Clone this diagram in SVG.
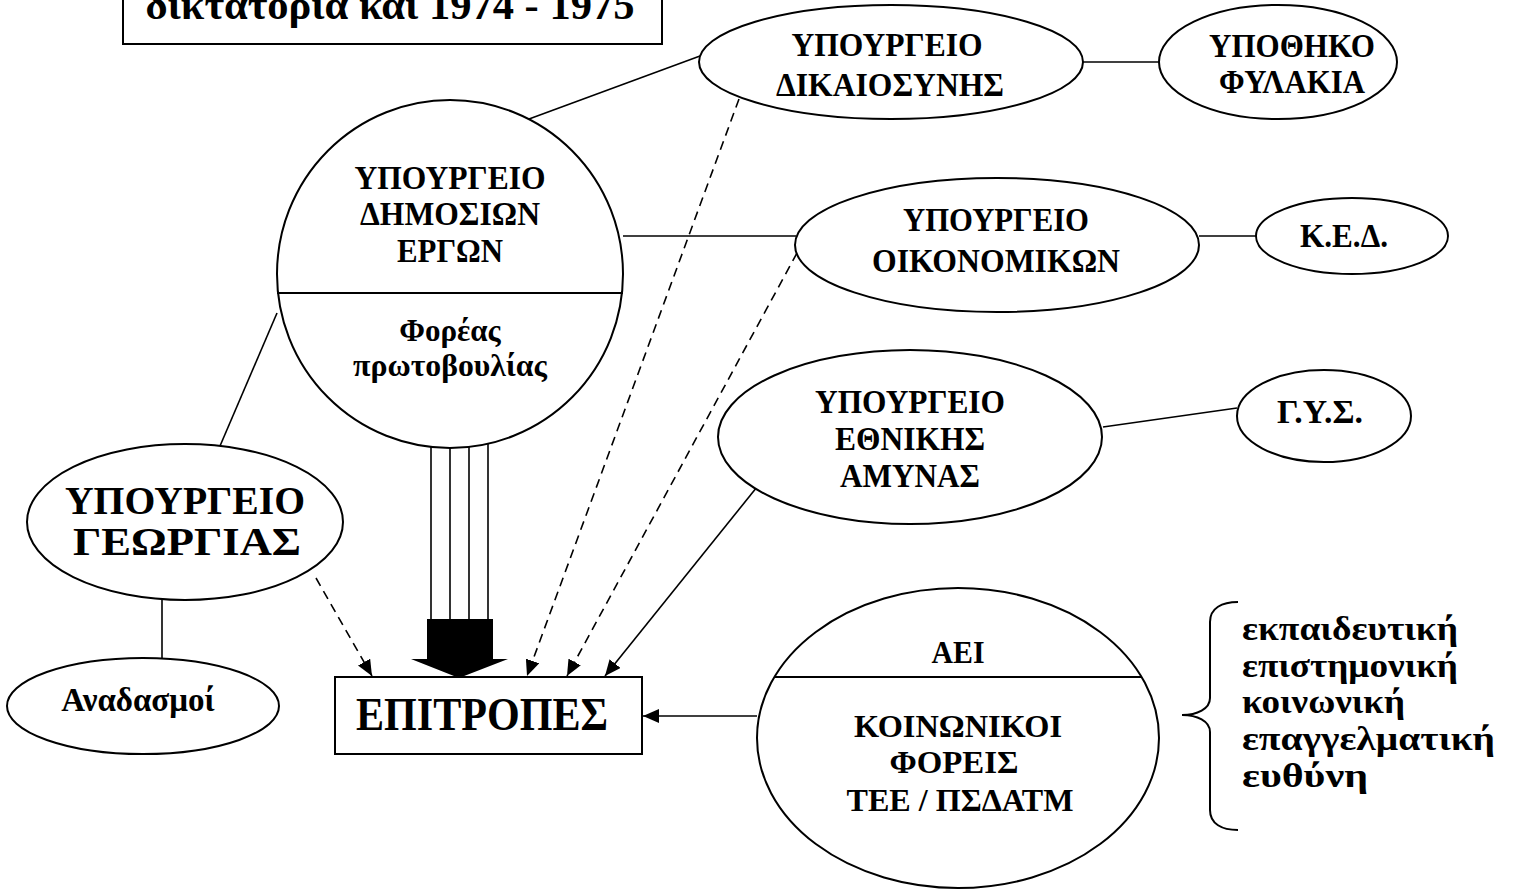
<svg xmlns="http://www.w3.org/2000/svg" width="1514" height="890" viewBox="0 0 1514 890">
<style>
.s{fill:none;stroke:#000;stroke-width:2}
.n{fill:#fff;stroke:#000;stroke-width:2}
.t{font-family:"Liberation Serif","Times New Roman",serif;font-weight:bold;fill:#000;text-anchor:middle}
.m{font-size:34px}
.c{stroke:#000;stroke-width:1.6;fill:none}
.d{stroke:#000;stroke-width:1.6;fill:none;stroke-dasharray:9 6}
</style>
<defs>
<marker id="ah" markerUnits="userSpaceOnUse" markerWidth="18" markerHeight="14" refX="16" refY="7" orient="auto">
<path d="M0,0 L16,7 L0,14 Z" fill="#000"/>
</marker>
</defs>
<rect width="1514" height="890" fill="#fff"/>

<g id="connectors">
<line class="c" x1="529" y1="119" x2="700" y2="56"/>
<line class="c" x1="1083" y1="62" x2="1160" y2="62"/>
<line class="c" x1="623" y1="236" x2="796" y2="236"/>
<line class="c" x1="1199" y1="236" x2="1256" y2="236"/>
<line class="c" x1="1103" y1="427" x2="1237" y2="408"/>
<line class="c" x1="277" y1="313" x2="220" y2="446"/>
<line class="c" x1="162" y1="600" x2="162" y2="658"/>
<line class="d" x1="739" y1="99" x2="527" y2="676" marker-end="url(#ah)"/>
<line class="d" x1="797" y1="253" x2="567" y2="676" marker-end="url(#ah)"/>
<line class="c" x1="757" y1="487" x2="605" y2="676" marker-end="url(#ah)"/>
<line class="d" x1="316" y1="578" x2="372" y2="676" marker-end="url(#ah)"/>
<line class="c" x1="757" y1="716" x2="643" y2="716" marker-end="url(#ah)"/>
<g id="thick-arrow">
<line class="c" x1="431" y1="446" x2="431" y2="620"/>
<line class="c" x1="450" y1="447" x2="450" y2="620"/>
<line class="c" x1="469" y1="446" x2="469" y2="620"/>
<line class="c" x1="488" y1="443" x2="488" y2="620"/>
<path d="M427,619 L493,619 L493,659 L508,659 L459,678 L411,659 L427,659 Z" fill="#000"/>
</g>
</g>

<g id="title">
<rect class="n" x="123" y="-10" width="539" height="54"/>
<text class="t" x="390" y="19" font-size="42" textLength="489" lengthAdjust="spacingAndGlyphs">δικτατορία και 1974 - 1975</text>
</g>

<g id="dimosion-ergon">
<ellipse class="n" cx="450" cy="274" rx="173" ry="174"/>
<line class="s" x1="277" y1="293" x2="623" y2="293"/>
<text class="t m" x="450" y="189" textLength="191" lengthAdjust="spacingAndGlyphs">ΥΠΟΥΡΓΕΙΟ</text>
<text class="t m" x="450" y="225" textLength="180" lengthAdjust="spacingAndGlyphs">ΔΗΜΟΣΙΩΝ</text>
<text class="t m" x="450" y="262" textLength="106" lengthAdjust="spacingAndGlyphs">ΕΡΓΩΝ</text>
<text class="t" font-size="31" x="450" y="341">Φορέας</text>
<text class="t" font-size="31" x="450" y="376" textLength="194" lengthAdjust="spacingAndGlyphs">πρωτοβουλίας</text>
</g>

<g id="dikaiosynis">
<ellipse class="n" cx="891" cy="62" rx="192" ry="57"/>
<text class="t m" x="887" y="56" textLength="191" lengthAdjust="spacingAndGlyphs">ΥΠΟΥΡΓΕΙΟ</text>
<text class="t m" x="890" y="96" textLength="228" lengthAdjust="spacingAndGlyphs">ΔΙΚΑΙΟΣΥΝΗΣ</text>
</g>

<g id="ypothiko">
<ellipse class="n" cx="1278" cy="62" rx="119" ry="57"/>
<text class="t m" x="1292" y="57" textLength="166" lengthAdjust="spacingAndGlyphs">ΥΠΟΘΗΚΟ</text>
<text class="t m" x="1292" y="93" textLength="146" lengthAdjust="spacingAndGlyphs">ΦΥΛΑΚΙΑ</text>
</g>

<g id="oikonomikon">
<ellipse class="n" cx="997" cy="245" rx="202" ry="67"/>
<text class="t m" x="996" y="231" textLength="186" lengthAdjust="spacingAndGlyphs">ΥΠΟΥΡΓΕΙΟ</text>
<text class="t m" x="996" y="272" textLength="248" lengthAdjust="spacingAndGlyphs">ΟΙΚΟΝΟΜΙΚΩΝ</text>
</g>

<g id="ked">
<ellipse class="n" cx="1352" cy="236" rx="96" ry="38"/>
<text class="t m" x="1344" y="247" textLength="88" lengthAdjust="spacingAndGlyphs">Κ.Ε.Δ.</text>
</g>

<g id="ethnikis-amynas">
<ellipse class="n" cx="910" cy="437" rx="192" ry="87"/>
<text class="t m" x="910" y="413" textLength="190" lengthAdjust="spacingAndGlyphs">ΥΠΟΥΡΓΕΙΟ</text>
<text class="t m" x="910" y="450" textLength="150" lengthAdjust="spacingAndGlyphs">ΕΘΝΙΚΗΣ</text>
<text class="t m" x="910" y="487" textLength="140" lengthAdjust="spacingAndGlyphs">ΑΜΥΝΑΣ</text>
</g>

<g id="gys">
<ellipse class="n" cx="1324" cy="416" rx="87" ry="46"/>
<text class="t m" x="1320" y="423" textLength="86" lengthAdjust="spacingAndGlyphs">Γ.Υ.Σ.</text>
</g>

<g id="georgias">
<ellipse class="n" cx="185" cy="522" rx="158" ry="78"/>
<text class="t" font-size="41" x="185" y="514" textLength="240" lengthAdjust="spacingAndGlyphs">ΥΠΟΥΡΓΕΙΟ</text>
<text class="t" font-size="41" x="187" y="555" textLength="228" lengthAdjust="spacingAndGlyphs">ΓΕΩΡΓΙΑΣ</text>
</g>

<g id="anadasmoi">
<ellipse class="n" cx="143" cy="706" rx="136" ry="48"/>
<text class="t" font-size="33" x="138" y="711">Αναδασμοί</text>
</g>

<g id="epitropes">
<rect class="n" x="335" y="677" width="307" height="77"/>
<text class="t" font-size="46" x="482" y="730" textLength="252" lengthAdjust="spacingAndGlyphs">ΕΠΙΤΡΟΠΕΣ</text>
</g>

<g id="aei">
<ellipse class="n" cx="958" cy="738" rx="201" ry="150"/>
<line class="s" x1="775" y1="677" x2="1142" y2="677"/>
<text class="t" font-size="32" x="958" y="663" textLength="53" lengthAdjust="spacingAndGlyphs">ΑΕΙ</text>
<text class="t" font-size="32" x="958" y="737" textLength="208" lengthAdjust="spacingAndGlyphs">ΚΟΙΝΩΝΙΚΟΙ</text>
<text class="t" font-size="32" x="954" y="773" textLength="129" lengthAdjust="spacingAndGlyphs">ΦΟΡΕΙΣ</text>
<text class="t" font-size="32" x="960" y="811" textLength="227" lengthAdjust="spacingAndGlyphs">ΤΕΕ / ΠΣΔΑΤΜ</text>
</g>

<g id="responsibilities">
<path class="s" d="M1238,602 C1222,602 1210,608 1210,622 L1210,698 C1210,709 1197,715 1182,715 C1197,715 1210,721 1210,732 L1210,810 C1210,824 1222,830 1238,830"/>
<text class="t" font-size="33" style="text-anchor:start" x="1242" y="640" textLength="216" lengthAdjust="spacingAndGlyphs">εκπαιδευτική</text>
<text class="t" font-size="33" style="text-anchor:start" x="1242" y="677" textLength="216" lengthAdjust="spacingAndGlyphs">επιστημονική</text>
<text class="t" font-size="33" style="text-anchor:start" x="1242" y="713" textLength="163" lengthAdjust="spacingAndGlyphs">κοινωνική</text>
<text class="t" font-size="33" style="text-anchor:start" x="1242" y="750" textLength="253" lengthAdjust="spacingAndGlyphs">επαγγελματική</text>
<text class="t" font-size="33" style="text-anchor:start" x="1242" y="787" textLength="126" lengthAdjust="spacingAndGlyphs">ευθύνη</text>
</g>
</svg>
